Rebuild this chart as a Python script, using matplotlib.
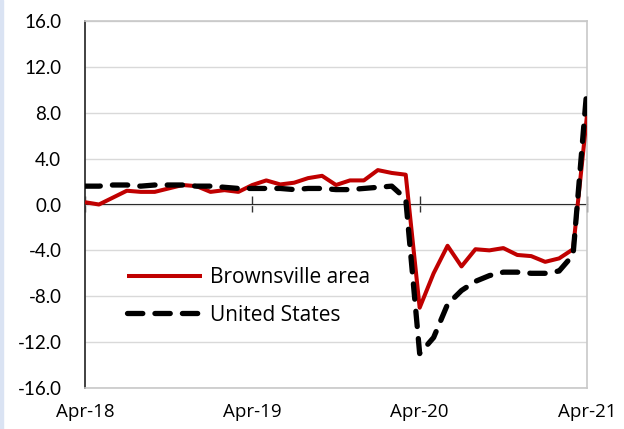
import matplotlib.pyplot as plt
import numpy as np
from matplotlib.patches import Rectangle

# monthly YoY % change, Apr-18 .. Apr-21
brownsville = [0.2, 0.0, 0.6, 1.2, 1.1, 1.1, 1.4, 1.7, 1.6, 1.1, 1.25, 1.1,
               1.7, 2.1, 1.75, 1.9, 2.3, 2.5, 1.7, 2.1, 2.1, 3.0, 2.75, 2.6,
               -9.0, -6.0, -3.6, -5.4, -3.9, -4.0, -3.8, -4.4, -4.5, -5.0, -4.7, -3.9,
               7.8]
united_states = [1.6, 1.6, 1.7, 1.7, 1.6, 1.7, 1.7, 1.7, 1.6, 1.6, 1.5, 1.4,
                 1.4, 1.4, 1.4, 1.3, 1.4, 1.4, 1.3, 1.3, 1.4, 1.5, 1.6, 0.5,
                 -13.0, -11.6, -8.7, -7.5, -6.7, -6.2, -5.9, -5.9, -6.0, -6.0, -5.8, -4.4,
                 10.2]
tick_pos = [0, 12, 24, 36]
tick_labels = ["Apr-18", "Apr-19", "Apr-20", "Apr-21"]
y_ticks = np.arange(-16, 17, 4)

plt.rcParams['font.family'] = ['Lato', 'DejaVu Sans']
fig = plt.figure(figsize=(6.24, 4.29), dpi=100)
fig.patches.append(Rectangle((0, 0), 3 / 624, 1, transform=fig.transFigure,
                             color="#dae3f3", zorder=0))
ax = fig.add_axes([85 / 624, 1 - 388 / 429, 502 / 624, 367 / 429])

x = np.arange(len(brownsville))
ax.plot(x, brownsville, color="#c00000", lw=2.9, label="Brownsville area",
        solid_capstyle="butt", zorder=3)
ax.plot(x, united_states, color="black", lw=3.8, ls=(0, (2.9, 2.3)),
        dash_capstyle="round", label="United States", zorder=4)

ax.set_xlim(0, 36)
ax.set_ylim(-16, 16)
ax.set_yticks(y_ticks)
ax.set_yticklabels([f"{v:.1f}" for v in y_ticks])
ax.set_xticks(tick_pos)
ax.set_xticklabels(tick_labels, family=['Open Sans', 'DejaVu Sans'])
ax.tick_params(axis="both", length=0, labelsize=13.5, colors="black")
ax.tick_params(axis="y", pad=17)
ax.tick_params(axis="x", pad=11)
ax.grid(axis="y", color="#d9d9d9", lw=1)
ax.set_axisbelow(True)
for s in ["top", "right", "bottom"]:
    ax.spines[s].set_color("#c8c8c8")
    ax.spines[s].set_linewidth(1.2)
ax.spines["left"].set_color("#333333")
ax.spines["left"].set_linewidth(1.3)

# zero line with month ticks
zero = ax.secondary_xaxis(0.5)
zero.set_xticks(tick_pos)
zero.set_xticklabels([])
zero.tick_params(direction="inout", length=11, width=1, color="#333333")
zero.spines["bottom"].set_color("black")
zero.spines["bottom"].set_linewidth(1)

ax.legend(loc="center left", bbox_to_anchor=(0.084, 0.249), frameon=False,
          prop={'family': ['Open Sans', 'DejaVu Sans'], 'size': 15},
          handlelength=3.6, handletextpad=0.39, labelspacing=0.78,
          borderpad=0, borderaxespad=0)

fig.savefig("out.png", dpi=100)
